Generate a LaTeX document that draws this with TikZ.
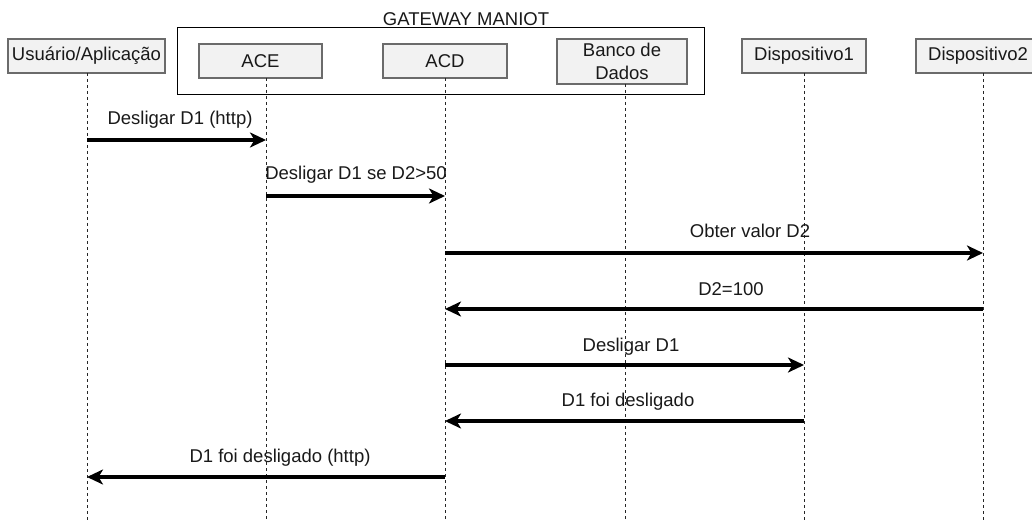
\documentclass[tikz,border=0pt]{standalone}
\usepackage{fontspec}
\setmainfont{Liberation Sans}
\usetikzlibrary{arrows.meta}
\begin{document}
\begin{tikzpicture}[x=1pt,y=-1pt,
  actor/.style={draw=black!58, line width=1.2pt, fill=black!5, inner sep=0pt,
    font=\fontsize{18.5}{23}\selectfont, align=center, text=black!90},
  life/.style={dash pattern=on 3pt off 3pt, line width=0.9pt, black!85},
  msg/.style={line width=3.3pt, -{Stealth[length=16pt,width=15pt,inset=4.5pt]}},
  lbl/.style={font=\fontsize{18.5}{22}\selectfont, inner sep=0pt, text=black!90}]
\useasboundingbox (0,0) rectangle (1032,521);
% gateway frame
\node[draw=black, line width=1pt, minimum width=527pt, minimum height=67pt, inner sep=0pt] (gw) at (440.5,61.5) {};
\node[lbl] (gwt) at (466,19) {GATEWAY MANIOT};
% actors
\node[actor, minimum width=157pt, minimum height=34pt] (ua) at (86.5,56) {Usuário/Aplicação};
\node[actor, minimum width=123pt, minimum height=34pt] (ace) at (260.5,61) {ACE};
\node[actor, minimum width=124pt, minimum height=34pt] (acd) at (445,61) {ACD};
\node[actor, minimum width=130pt, minimum height=45pt] (bd) at (622,61.5) {Banco de\\Dados};
\node[actor, minimum width=124pt, minimum height=34pt] (d1) at (804,56) {Dispositivo1};
\node[actor, minimum width=124pt, minimum height=34pt] (d2) at (978,56) {Dispositivo2};
% lifelines
\coordinate (uaT) at (87,73);   \coordinate (uaB) at (87,521);
\coordinate (aceT) at (266,78); \coordinate (aceB) at (266,521);
\coordinate (acdT) at (445,78); \coordinate (acdB) at (445,521);
\coordinate (bdT) at (625,84);  \coordinate (bdB) at (625,521);
\coordinate (d1T) at (804,73);  \coordinate (d1B) at (804,521);
\coordinate (d2T) at (983,73);  \coordinate (d2B) at (983,521);
\foreach \n in {ua,ace,acd,bd,d1,d2} \draw[life] (\n T) -- (\n B);
% message points
\coordinate (m1a) at (87,140);  \coordinate (m1b) at (266,140);
\coordinate (m2a) at (266,196); \coordinate (m2b) at (445,196);
\coordinate (m3a) at (445,253); \coordinate (m3b) at (983,253);
\coordinate (m4a) at (983,309); \coordinate (m4b) at (445,309);
\coordinate (m5a) at (445,365); \coordinate (m5b) at (804,365);
\coordinate (m6a) at (804,421); \coordinate (m6b) at (445,421);
\coordinate (m7a) at (445,477); \coordinate (m7b) at (87,477);
\draw[msg] (m1a) -- (m1b);
\draw[msg] (m2a) -- (m2b);
\draw[msg] (m3a) -- (m3b);
\draw[msg] (m4a) -- (m4b);
\draw[msg] (m5a) -- (m5b);
\draw[msg] (m6a) -- (m6b);
\draw[msg] (m7a) -- (m7b);
% labels
\node[lbl] (l1) at (180,120) {Desligar D1 (http)};
\node[lbl] (l2) at (356,175) {Desligar D1 se D2>50};
\node[lbl] (l3) at (750,231) {Obter valor D2};
\node[lbl] (l4) at (731,289) {D2=100};
\node[lbl] (l5) at (631,347) {Desligar D1};
\node[lbl] (l6) at (628,402) {D1 foi desligado};
\node[lbl] (l7) at (280,458) {D1 foi desligado (http)};
\end{tikzpicture}
\end{document}
